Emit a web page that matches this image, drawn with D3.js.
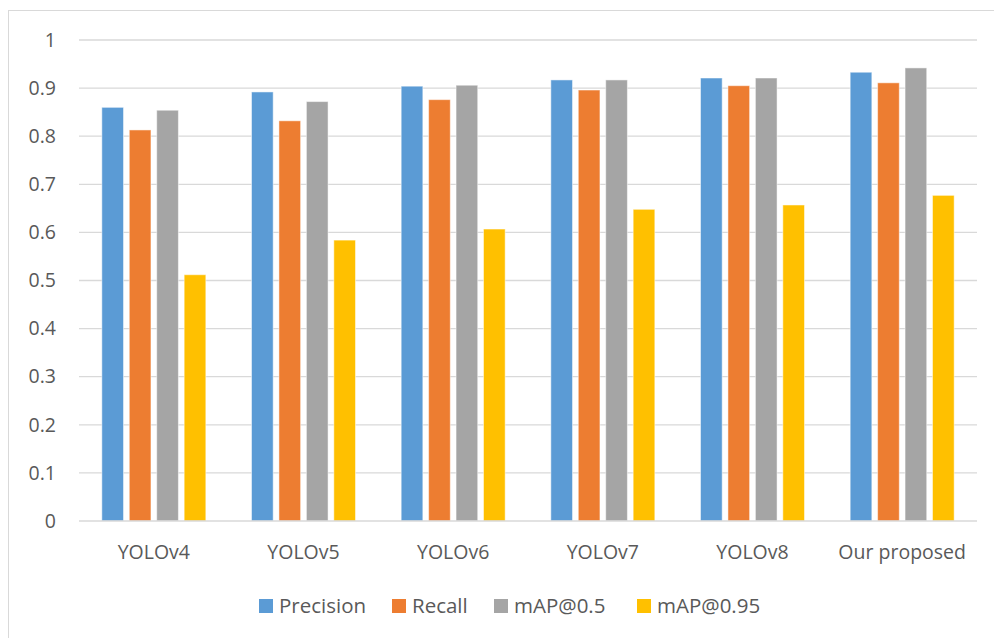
<!DOCTYPE html>
<html>
<head>
<meta charset="utf-8">
<script src="https://cdn.jsdelivr.net/npm/d3@7"></script>
<style>
  html, body { margin: 0; padding: 0; background: #fff; }
  svg { display: block; }
</style>
</head>
<body>
<svg id="chart" width="994" height="638"></svg>
<script>
// Detection models compared
const categories = ["YOLOv4", "YOLOv5", "YOLOv6", "YOLOv7", "YOLOv8", "Our proposed"];
const seriesNames = ["Precision", "Recall", "mAP@0.5", "mAP@0.95"];
const precision = [0.860, 0.892, 0.904, 0.917, 0.921, 0.933];
const recall    = [0.813, 0.832, 0.876, 0.896, 0.905, 0.911];
const map50     = [0.854, 0.872, 0.906, 0.917, 0.921, 0.942];
const map95     = [0.512, 0.584, 0.607, 0.648, 0.657, 0.677];
const yTicks    = [0, 0.1, 0.2, 0.3, 0.4, 0.5, 0.6, 0.7, 0.8, 0.9, 1];

const seriesValues = [precision, recall, map50, map95];
const colors = ["#5B9BD5", "#ED7D31", "#A5A5A5", "#FFC000"];
const font = "'Open Sans', sans-serif";
const fontSize = 19.5;
const legendFontSize = 20.5;
const textColor = "#595959";

const svg = d3.select("#chart");

// chart frame
svg.append("rect")
  .attr("x", 8.5).attr("y", 10.5)
  .attr("width", 1000).attr("height", 700)
  .attr("fill", "#fff")
  .attr("stroke", "#d9d9d9").attr("stroke-width", 1);

const plot = { left: 79, right: 977, top: 40, bottom: 521 };

const x0 = d3.scaleBand().domain(categories).range([plot.left, plot.right]).paddingInner(0).paddingOuter(0);
const groupInner = 104;
const x1 = d3.scaleBand().domain(seriesNames).range([0, groupInner]).paddingInner(0.21).paddingOuter(0);
const y = d3.scaleLinear().domain([0, 1]).range([plot.bottom, plot.top]);

// horizontal gridlines
svg.append("g").selectAll("line").data(yTicks.filter(d => d > 0)).join("line")
  .attr("x1", plot.left).attr("x2", plot.right)
  .attr("y1", d => y(d)).attr("y2", d => y(d))
  .attr("stroke", "#d9d9d9").attr("stroke-width", 1.3);

// y axis labels
const yAxis = d3.axisLeft(y).tickValues(yTicks).tickSize(0).tickPadding(0)
  .tickFormat(d => d3.format("~g")(d));
const yg = svg.append("g").attr("transform", `translate(${56},0)`).call(yAxis);
yg.select(".domain").remove();
yg.selectAll("text").attr("font-family", font).attr("font-size", fontSize).attr("fill", textColor);

// bars
const groups = svg.append("g").selectAll("g").data(categories).join("g")
  .attr("transform", c => `translate(${x0(c) + (x0.bandwidth() - groupInner) / 2},0)`);

groups.selectAll("rect")
  .data((c, i) => seriesNames.map((s, j) => ({ s, j, v: seriesValues[j][i] })))
  .join("rect")
  .attr("x", d => x1(d.s))
  .attr("y", d => y(d.v))
  .attr("width", x1.bandwidth())
  .attr("height", d => y(0) - y(d.v))
  .attr("fill", d => colors[d.j])
  .attr("stroke", "#fff").attr("stroke-opacity", 0.5).attr("stroke-width", 1);

// baseline
svg.append("line")
  .attr("x1", plot.left).attr("x2", plot.right)
  .attr("y1", y(0)).attr("y2", y(0))
  .attr("stroke", "#d9d9d9").attr("stroke-width", 1.5);

// category labels
const xAxis = d3.axisBottom(x0).tickSize(0).tickPadding(0);
const xg = svg.append("g").attr("transform", `translate(0,${559})`).call(xAxis);
xg.select(".domain").remove();
xg.selectAll("text").attr("dy", 0).attr("font-family", font).attr("font-size", fontSize).attr("fill", textColor);

// legend
const legendX = [259, 392, 494, 637];
const legend = svg.append("g").selectAll("g").data(seriesNames).join("g")
  .attr("transform", (d, i) => `translate(${legendX[i]},${599})`);
legend.append("rect").attr("width", 14).attr("height", 14).attr("fill", (d, i) => colors[i]);
legend.append("text").attr("x", 20).attr("y", 13.5)
  .attr("font-family", font).attr("font-size", legendFontSize).attr("fill", textColor)
  .text(d => d);
</script>
</body>
</html>
